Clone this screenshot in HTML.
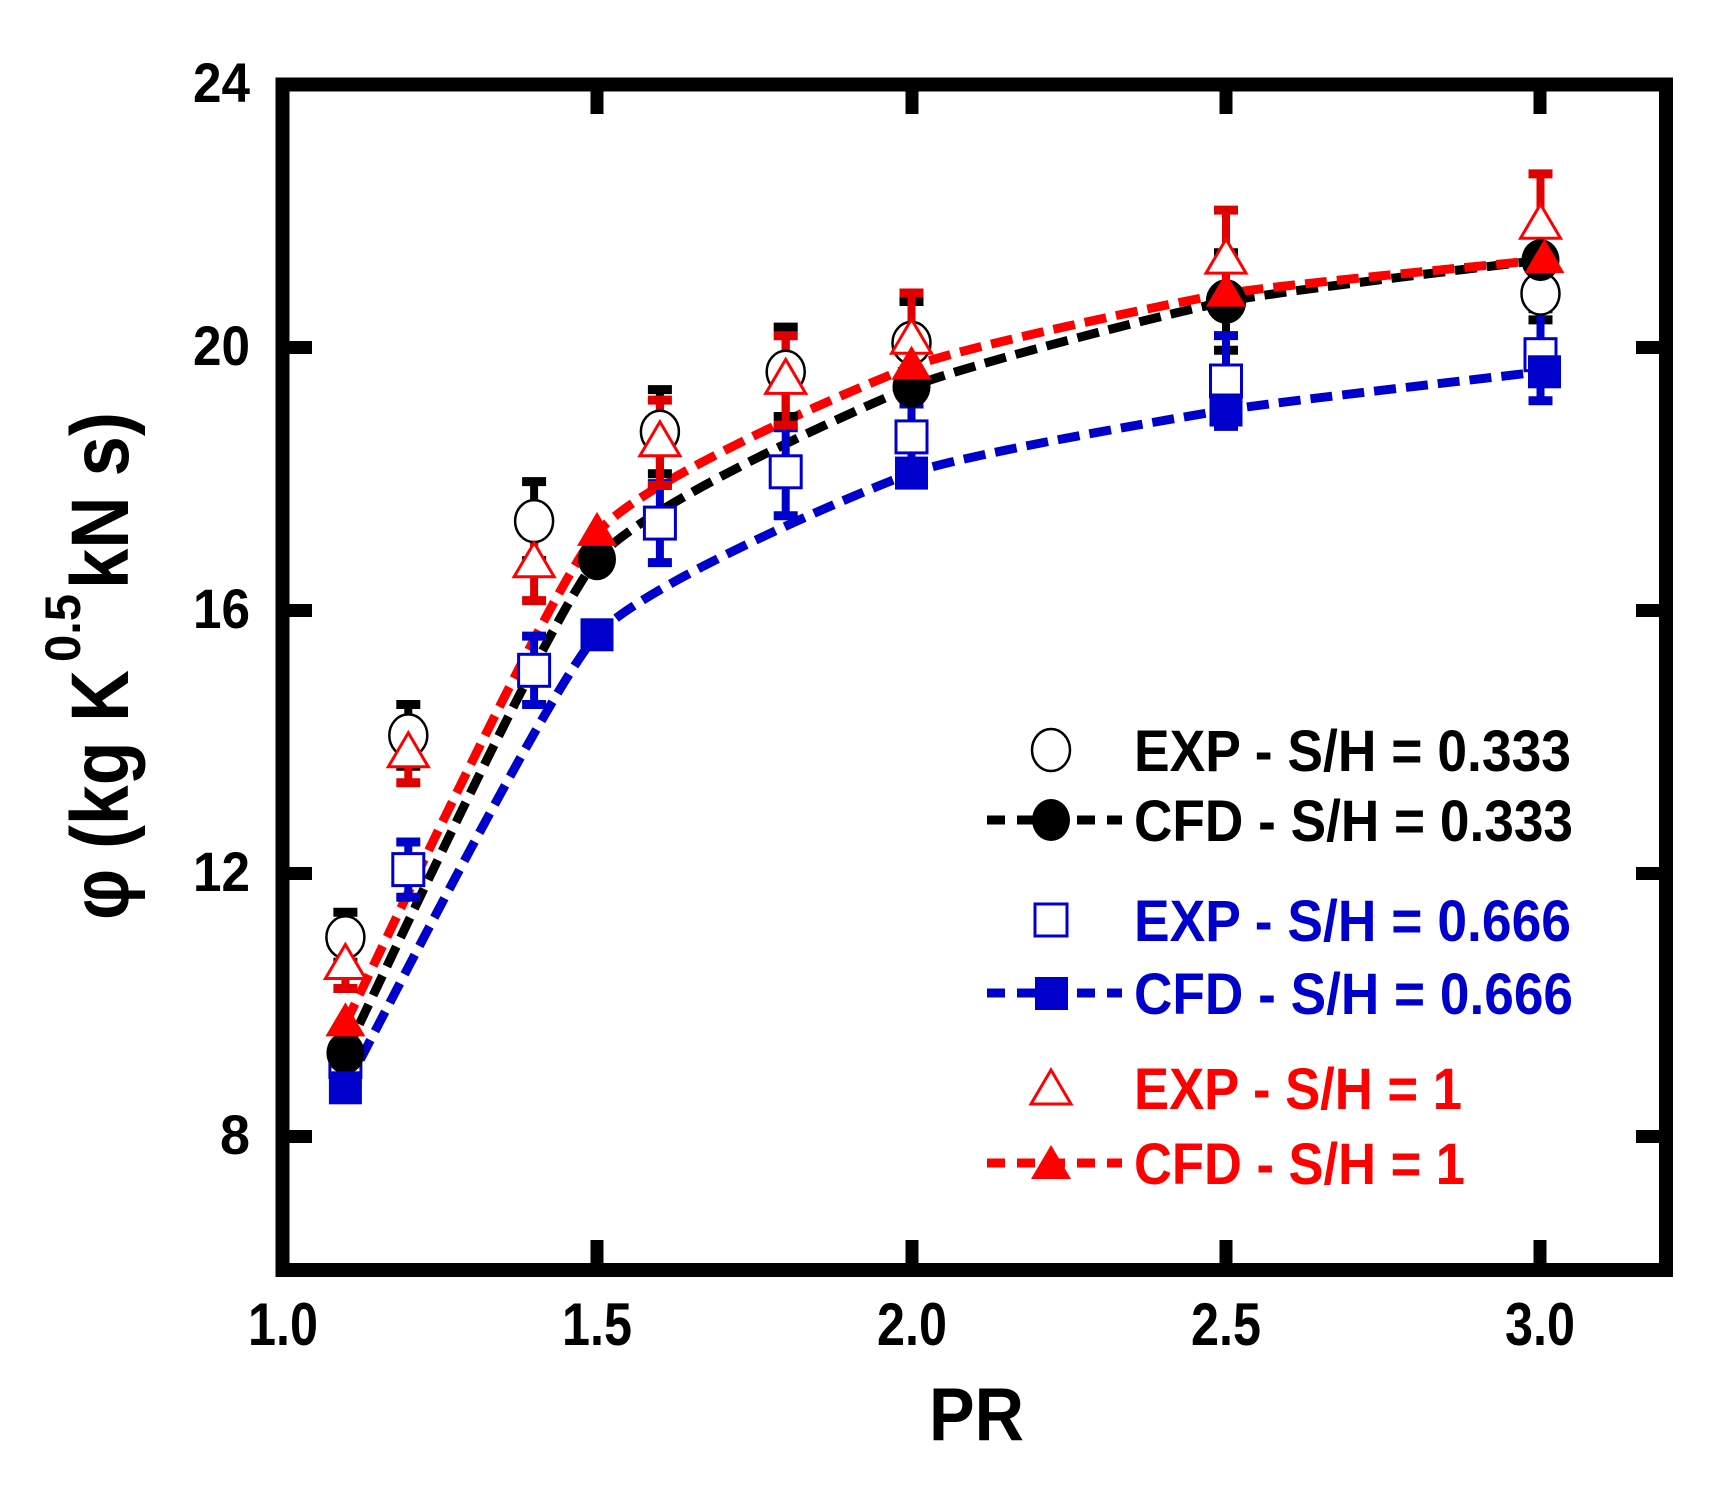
<!DOCTYPE html>
<html><head><meta charset="utf-8"><style>html,body{margin:0;padding:0;background:#fff}svg{display:block}</style></head>
<body>
<svg width="1735" height="1495" viewBox="0 0 1735 1495" xmlns="http://www.w3.org/2000/svg" font-family="'Liberation Sans', Arial, sans-serif" font-weight="bold">
<rect width="1735" height="1495" fill="#fff"/>
<!-- CFD lines -->
<g fill="none" stroke-width="9" stroke-dasharray="22 10">
<path stroke="#000" d="M345.4,1053 C366.35,1011.85 549.8,614.7 597,559.2 C644.2,503.7 859.1,408.4 911.5,386.9 C963.9,365.4 1173.6,312.05 1226,301.5 C1278.4,290.95 1514.3,263.55 1540.5,260.1"/>
<path stroke="#0000cc" d="M345.4,1087.8 C366.35,1050.05 549.8,686.05 597,634.8 C644.2,583.55 859.1,491.85 911.5,473.1 C963.9,454.35 1173.6,418.45 1226,410 C1278.4,401.55 1514.3,375 1540.5,371.8"/>
<path stroke="#ff0000" d="M345.4,1023.4 C366.35,982.5 549.8,587.65 597,532.9 C644.2,478.15 859.1,386.55 911.5,366.6 C963.9,346.65 1173.6,302.5 1226,293.6 C1278.4,284.85 1514.3,262.9 1540.5,260.1"/>
</g>
<!-- error bars: black -->
<g stroke="#000">
<g stroke-width="8">
<line x1="345.4" y1="912.3" x2="345.4" y2="962.3"/><line x1="408.3" y1="704.5" x2="408.3" y2="766.3"/><line x1="534.1" y1="481.6" x2="534.1" y2="560.6"/><line x1="659.9" y1="389.6" x2="659.9" y2="473.8"/><line x1="785.7" y1="327.1" x2="785.7" y2="416.5"/><line x1="911.5" y1="301.5" x2="911.5" y2="384.3"/><line x1="1226" y1="252.8" x2="1226" y2="350.2"/><line x1="1540.5" y1="267.3" x2="1540.5" y2="319.9"/>
</g>
<g stroke-width="9">
<line x1="333.4" y1="912.3" x2="357.4" y2="912.3"/><line x1="333.4" y1="962.3" x2="357.4" y2="962.3"/>
<line x1="396.3" y1="704.5" x2="420.3" y2="704.5"/><line x1="396.3" y1="766.3" x2="420.3" y2="766.3"/>
<line x1="522.1" y1="481.6" x2="546.1" y2="481.6"/><line x1="522.1" y1="560.6" x2="546.1" y2="560.6"/>
<line x1="647.9" y1="389.6" x2="671.9" y2="389.6"/><line x1="647.9" y1="473.8" x2="671.9" y2="473.8"/>
<line x1="773.7" y1="327.1" x2="797.7" y2="327.1"/><line x1="773.7" y1="416.5" x2="797.7" y2="416.5"/>
<line x1="899.5" y1="301.5" x2="923.5" y2="301.5"/><line x1="899.5" y1="384.3" x2="923.5" y2="384.3"/>
<line x1="1214" y1="252.8" x2="1238" y2="252.8"/><line x1="1214" y1="350.2" x2="1238" y2="350.2"/>
<line x1="1528.5" y1="267.3" x2="1552.5" y2="267.3"/><line x1="1528.5" y1="319.9" x2="1552.5" y2="319.9"/>
</g></g>
<!-- error bars: blue -->
<g stroke="#0000cc">
<g stroke-width="8">
<line x1="345.4" y1="1041.8" x2="345.4" y2="1081.2"/><line x1="408.3" y1="842" x2="408.3" y2="897.2"/><line x1="534.1" y1="636.1" x2="534.1" y2="704.5"/><line x1="659.9" y1="483.6" x2="659.9" y2="562.6"/><line x1="785.7" y1="427.8" x2="785.7" y2="515.8"/><line x1="911.5" y1="404" x2="911.5" y2="469.8"/><line x1="1226" y1="335.6" x2="1226" y2="426.4"/><line x1="1540.5" y1="308.7" x2="1540.5" y2="400.7"/>
</g>
<g stroke-width="9">
<line x1="333.4" y1="1041.8" x2="357.4" y2="1041.8"/><line x1="333.4" y1="1081.2" x2="357.4" y2="1081.2"/>
<line x1="396.3" y1="842" x2="420.3" y2="842"/><line x1="396.3" y1="897.2" x2="420.3" y2="897.2"/>
<line x1="522.1" y1="636.1" x2="546.1" y2="636.1"/><line x1="522.1" y1="704.5" x2="546.1" y2="704.5"/>
<line x1="647.9" y1="483.6" x2="671.9" y2="483.6"/><line x1="647.9" y1="562.6" x2="671.9" y2="562.6"/>
<line x1="773.7" y1="427.8" x2="797.7" y2="427.8"/><line x1="773.7" y1="515.8" x2="797.7" y2="515.8"/>
<line x1="899.5" y1="404" x2="923.5" y2="404"/><line x1="899.5" y1="469.8" x2="923.5" y2="469.8"/>
<line x1="1214" y1="335.6" x2="1238" y2="335.6"/><line x1="1214" y1="426.4" x2="1238" y2="426.4"/>
<line x1="1528.5" y1="308.7" x2="1552.5" y2="308.7"/><line x1="1528.5" y1="400.7" x2="1552.5" y2="400.7"/>
</g></g>
<!-- error bars: red -->
<g stroke="#e00000">
<g stroke-width="8">
<line x1="345.4" y1="942.5" x2="345.4" y2="988.5"/><line x1="408.3" y1="724.9" x2="408.3" y2="782.7"/><line x1="534.1" y1="527" x2="534.1" y2="600.6"/><line x1="659.9" y1="400.1" x2="659.9" y2="485.5"/><line x1="785.7" y1="335.7" x2="785.7" y2="425.1"/><line x1="911.5" y1="293" x2="911.5" y2="387.6"/><line x1="1226" y1="210.1" x2="1226" y2="310.1"/><line x1="1540.5" y1="173.9" x2="1540.5" y2="276.5"/>
</g>
<g stroke-width="9">
<line x1="333.4" y1="942.5" x2="357.4" y2="942.5"/><line x1="333.4" y1="988.5" x2="357.4" y2="988.5"/>
<line x1="396.3" y1="724.9" x2="420.3" y2="724.9"/><line x1="396.3" y1="782.7" x2="420.3" y2="782.7"/>
<line x1="522.1" y1="527" x2="546.1" y2="527"/><line x1="522.1" y1="600.6" x2="546.1" y2="600.6"/>
<line x1="647.9" y1="400.1" x2="671.9" y2="400.1"/><line x1="647.9" y1="485.5" x2="671.9" y2="485.5"/>
<line x1="773.7" y1="335.7" x2="797.7" y2="335.7"/><line x1="773.7" y1="425.1" x2="797.7" y2="425.1"/>
<line x1="899.5" y1="293" x2="923.5" y2="293"/><line x1="899.5" y1="387.6" x2="923.5" y2="387.6"/>
<line x1="1214" y1="210.1" x2="1238" y2="210.1"/><line x1="1214" y1="310.1" x2="1238" y2="310.1"/>
<line x1="1528.5" y1="173.9" x2="1552.5" y2="173.9"/><line x1="1528.5" y1="276.5" x2="1552.5" y2="276.5"/>
</g></g>
<!-- EXP markers black circles -->
<g fill="#fff" stroke="#000" stroke-width="2.5">
<ellipse cx="345.4" cy="937.3" rx="19" ry="21"/><ellipse cx="408.3" cy="735.4" rx="19" ry="21"/><ellipse cx="534.1" cy="521.1" rx="19" ry="21"/><ellipse cx="659.9" cy="431.7" rx="19" ry="21"/><ellipse cx="785.7" cy="371.8" rx="19" ry="21"/><ellipse cx="911.5" cy="342.9" rx="19" ry="21"/><ellipse cx="1226" cy="301.5" rx="19" ry="21"/><ellipse cx="1540.5" cy="293.6" rx="19" ry="21"/>
</g>
<!-- EXP blue squares -->
<g fill="#fff" stroke="#0000cc" stroke-width="3">
<rect x="329.9" y="1045.5" width="31" height="32"/><rect x="392.8" y="853.6" width="31" height="32"/><rect x="518.6" y="654.3" width="31" height="32"/><rect x="644.4" y="507.1" width="31" height="32"/><rect x="770.2" y="455.8" width="31" height="32"/><rect x="896" y="420.9" width="31" height="32"/><rect x="1210.5" y="365" width="31" height="32"/><rect x="1525" y="338.7" width="31" height="32"/>
</g>
<!-- EXP red triangles -->
<g fill="#fff" stroke="#ff0000" stroke-width="3">
<polygon points="345.4,944.5 365.4,978.5 325.4,978.5"/>
<polygon points="408.3,732.8 428.3,766.8 388.3,766.8"/>
<polygon points="534.1,542.8 554.1,576.8 514.1,576.8"/>
<polygon points="659.9,421.8 679.9,455.8 639.9,455.8"/>
<polygon points="785.7,359.4 805.7,393.4 765.7,393.4"/>
<polygon points="911.5,319.3 931.5,353.3 891.5,353.3"/>
<polygon points="1226,239.1 1246,273.1 1206,273.1"/>
<polygon points="1540.5,204.2 1560.5,238.2 1520.5,238.2"/>
</g>
<!-- CFD markers -->
<g fill="#000">
<ellipse cx="345.4" cy="1053" rx="19" ry="21"/><ellipse cx="597" cy="559.2" rx="19" ry="21"/><ellipse cx="911.5" cy="386.9" rx="19" ry="21"/><ellipse cx="1226" cy="301.5" rx="19" ry="21"/><ellipse cx="1540.5" cy="260.1" rx="19" ry="21"/>
</g>
<g fill="#0000cc">
<rect x="328.9" y="1071.3" width="33" height="33"/><rect x="580.5" y="618.3" width="33" height="33"/><rect x="895" y="456.6" width="33" height="33"/><rect x="1209.5" y="393.5" width="33" height="33"/><rect x="1528" y="355.3" width="33" height="33"/>
</g>
<g fill="#ff0000">
<polygon points="345.4,1002.4 365.4,1036.4 325.4,1036.4"/>
<polygon points="597,511.9 617,545.9 577,545.9"/>
<polygon points="911.5,345.6 931.5,379.6 891.5,379.6"/>
<polygon points="1226,272.6 1246,306.6 1206,306.6"/>
<polygon points="1544.5,239.1 1564.5,273.1 1524.5,273.1"/>
</g>
<!-- frame -->
<rect x="282.5" y="84.5" width="1383.5" height="1185.5" fill="none" stroke="#000" stroke-width="14"/>
<g stroke="#000" stroke-width="13">
<line x1="597" y1="1270" x2="597" y2="1240"/><line x1="912" y1="1270" x2="912" y2="1240"/><line x1="1226" y1="1270" x2="1226" y2="1240"/><line x1="1540" y1="1270" x2="1540" y2="1240"/>
<line x1="597" y1="84" x2="597" y2="114"/><line x1="912" y1="84" x2="912" y2="114"/><line x1="1226" y1="84" x2="1226" y2="114"/><line x1="1540" y1="84" x2="1540" y2="114"/>
<line x1="282" y1="347.5" x2="312" y2="347.5"/><line x1="282" y1="610.5" x2="312" y2="610.5"/><line x1="282" y1="873.5" x2="312" y2="873.5"/><line x1="282" y1="1136.5" x2="312" y2="1136.5"/>
<line x1="1666" y1="347.5" x2="1636" y2="347.5"/><line x1="1666" y1="610.5" x2="1636" y2="610.5"/><line x1="1666" y1="873.5" x2="1636" y2="873.5"/><line x1="1666" y1="1136.5" x2="1636" y2="1136.5"/>
</g>
<g font-size="56" text-anchor="end" fill="#000">
<text x="250" y="102" textLength="57" lengthAdjust="spacingAndGlyphs">24</text>
<text x="250" y="365" textLength="57" lengthAdjust="spacingAndGlyphs">20</text>
<text x="250" y="628" textLength="57" lengthAdjust="spacingAndGlyphs">16</text>
<text x="250" y="891" textLength="57" lengthAdjust="spacingAndGlyphs">12</text>
<text x="250" y="1154" textLength="30" lengthAdjust="spacingAndGlyphs">8</text>
</g>
<g font-size="60" fill="#000">
<text x="248" y="1345" textLength="70" lengthAdjust="spacingAndGlyphs">1.0</text>
<text x="562" y="1345" textLength="70" lengthAdjust="spacingAndGlyphs">1.5</text>
<text x="877" y="1345" textLength="70" lengthAdjust="spacingAndGlyphs">2.0</text>
<text x="1191" y="1345" textLength="70" lengthAdjust="spacingAndGlyphs">2.5</text>
<text x="1505" y="1345" textLength="70" lengthAdjust="spacingAndGlyphs">3.0</text>
<text x="929" y="1440" font-size="75" textLength="95" lengthAdjust="spacingAndGlyphs">PR</text>
</g>
<g fill="#000">
<text transform="translate(128,920) rotate(-90)" font-size="82" textLength="250" lengthAdjust="spacingAndGlyphs">φ (kg K</text>
<text transform="translate(80,662) rotate(-90)" font-size="50" textLength="68" lengthAdjust="spacingAndGlyphs">0.5</text>
<text transform="translate(128,589) rotate(-90)" font-size="82" textLength="177" lengthAdjust="spacingAndGlyphs">kN s)</text>
</g>
<!-- legend -->
<g stroke-width="9" stroke-dasharray="18 12">
<line x1="987" y1="820" x2="1122" y2="820" stroke="#000"/>
<line x1="987" y1="993" x2="1122" y2="993" stroke="#0000cc"/>
<line x1="987" y1="1163" x2="1122" y2="1163" stroke="#ff0000"/>
</g>
<ellipse cx="1051" cy="750" rx="19" ry="21" fill="#fff" stroke="#000" stroke-width="2.5"/>
<ellipse cx="1051" cy="820" rx="19" ry="21" fill="#000"/>
<rect x="1035" y="904" width="32" height="32" fill="#fff" stroke="#0000cc" stroke-width="3"/>
<rect x="1035" y="977" width="33" height="33" fill="#0000cc"/>
<polygon points="1051,1070 1071,1104 1031,1104" fill="#fff" stroke="#ff0000" stroke-width="3"/>
<polygon points="1051,1145 1071,1179 1031,1179" fill="#ff0000"/>
<g font-size="58">
<text x="1134" y="771" fill="#000" textLength="437" lengthAdjust="spacingAndGlyphs">EXP - S/H = 0.333</text>
<text x="1134" y="841" fill="#000" textLength="439" lengthAdjust="spacingAndGlyphs">CFD - S/H = 0.333</text>
<text x="1134" y="941" fill="#0000cc" textLength="437" lengthAdjust="spacingAndGlyphs">EXP - S/H = 0.666</text>
<text x="1134" y="1014" fill="#0000cc" textLength="439" lengthAdjust="spacingAndGlyphs">CFD - S/H = 0.666</text>
<text x="1134" y="1109" fill="#ff0000" textLength="328" lengthAdjust="spacingAndGlyphs">EXP - S/H = 1</text>
<text x="1134" y="1184" fill="#ff0000" textLength="331" lengthAdjust="spacingAndGlyphs">CFD - S/H = 1</text>
</g>
</svg>
</body></html>
